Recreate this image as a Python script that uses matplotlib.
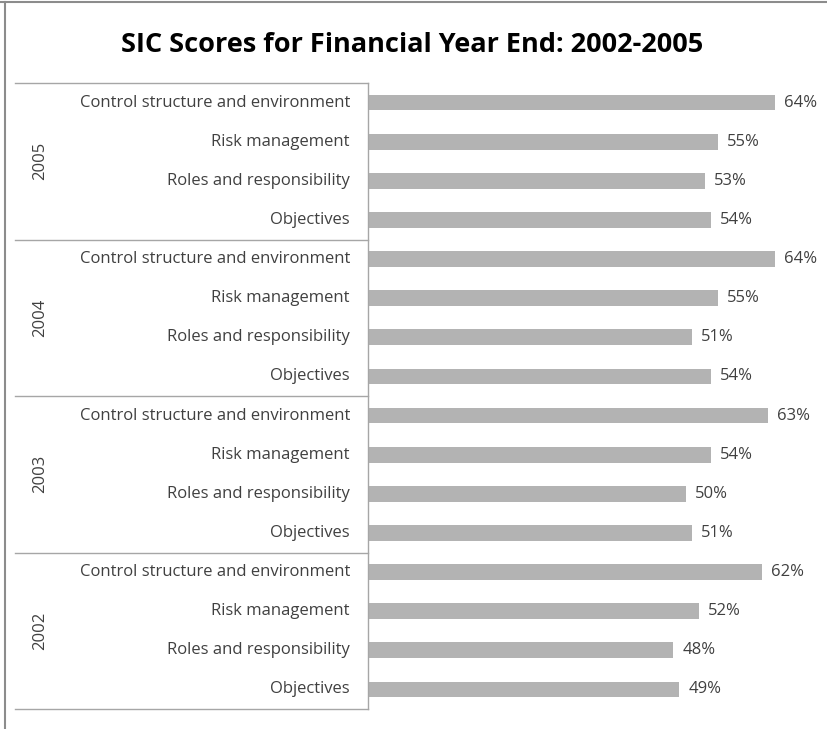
import numpy as np
import matplotlib.pyplot as plt
from matplotlib.lines import Line2D
from matplotlib.transforms import blended_transform_factory, offset_copy

plt.rcParams["font.family"] = ["Open Sans", "DejaVu Sans"]

# scores per year (top to bottom), one value per measure
years = ["2005", "2004", "2003", "2002"]
measures = ["Control structure and environment", "Risk management",
            "Roles and responsibility", "Objectives"]
scores_2005 = [64, 55, 53, 54]
scores_2004 = [64, 55, 51, 54]
scores_2003 = [63, 54, 50, 51]
scores_2002 = [62, 52, 48, 49]

all_scores = scores_2005 + scores_2004 + scores_2003 + scores_2002
n_rows = len(all_scores)
ypos = np.arange(n_rows)

BAR = "#b3b3b3"
TXT = "#404040"
LINE = "#a6a6a6"

W, H = 828, 729
fig = plt.figure(figsize=(W / 100, H / 100), dpi=100)
ax = fig.add_axes([368 / W, 1 - 709 / H, (813 - 368) / W, (709 - 83) / H])

ax.barh(ypos, all_scores, height=0.4, color=BAR)
ax.set_ylim(n_rows - 0.5, -0.5)
ax.set_xlim(0, 70)
ax.set_xticks([])
ax.set_yticks([])
for s in ["top", "right", "bottom"]:
    ax.spines[s].set_visible(False)
ax.spines["left"].set_color(LINE)
ax.spines["left"].set_linewidth(1.0)

# value labels at the bar ends
lbl_tr = offset_copy(ax.transData, fig=fig, x=9, y=0, units="dots")
for y, v in zip(ypos, all_scores):
    ax.text(v, y, f"{v}%", transform=lbl_tr, ha="left", va="center",
            fontsize=12, color=TXT)

# category labels to the left of the axis
bt = blended_transform_factory(ax.transAxes, ax.transData)
cat_tr = offset_copy(bt, fig=fig, x=-18, y=0, units="dots")
for i, y in enumerate(ypos):
    ax.text(0, y, measures[i % len(measures)], transform=cat_tr,
            ha="right", va="center", fontsize=12, color=TXT)

# year group labels and separators
x_left = (15 - 368) / (813 - 368)
x_year = (40 - 368) / (813 - 368)
ng = len(measures)
for g, yr in enumerate(years):
    mid = g * ng + (ng - 1) / 2
    ax.text(x_year, mid, yr, transform=bt, rotation=90,
            ha="center", va="center", fontsize=12, color=TXT)
for g in range(len(years) + 1):
    yb = g * ng - 0.5
    ax.add_line(Line2D([x_left, 0], [yb, yb], transform=bt, color=LINE,
                       linewidth=1.0, clip_on=False))

# outer frame edges
fig.add_artist(Line2D([0, 1], [1 - 1.5 / H, 1 - 1.5 / H], color="#8c8c8c",
                      linewidth=1.5, transform=fig.transFigure))
fig.add_artist(Line2D([5.5 / W, 5.5 / W], [0, 1 - 1.5 / H], color="#8c8c8c",
                      linewidth=1.5, transform=fig.transFigure))

fig.text(412 / W, 1 - 45 / H, "SIC Scores for Financial Year End: 2002-2005",
         ha="center", va="center", fontsize=19.5, fontweight="bold",
         color="black")

fig.savefig("out.png", dpi=100)
